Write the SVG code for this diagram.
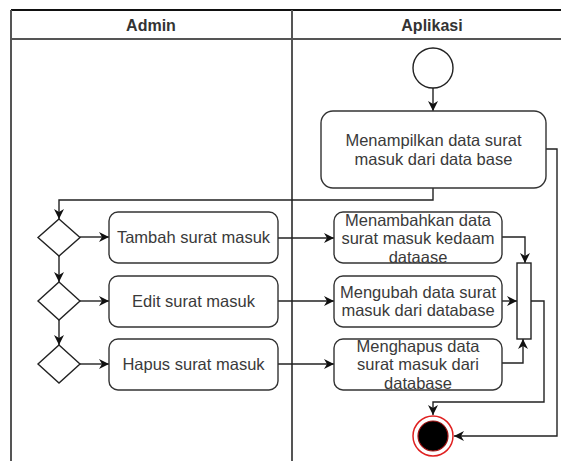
<svg xmlns="http://www.w3.org/2000/svg" width="561" height="461" viewBox="0 0 561 461">
  <defs>
    <marker id="arrow" viewBox="0 0 10 10" refX="10" refY="5" markerWidth="10" markerHeight="10" markerUnits="userSpaceOnUse" orient="auto">
      <path d="M0,0 L10,5 L0,10 L3,5 Z" fill="#111"/>
    </marker>
    <style>
      .lane { fill: none; stroke: #555; stroke-width: 2; }
      .head { font-family: "Liberation Sans", Arial, sans-serif; font-size: 16px; font-weight: bold; fill: #333; text-anchor: middle; }
      .box { fill: #fff; stroke: #333; stroke-width: 1.4; }
      .dia { fill: #fff; stroke: #222; stroke-width: 1.4; }
      .lbl { font-family: "Liberation Sans", Arial, sans-serif; font-size: 16.5px; fill: #3a3a3a; text-anchor: middle; }
      .edge { fill: none; stroke: #222; stroke-width: 1.4; marker-end: url(#arrow); }
    </style>
  </defs>
  <rect width="561" height="461" fill="#fff"/>

  <!-- swimlanes -->
  <g id="lanes">
    <line x1="11" y1="10" x2="561" y2="10" stroke="#111" stroke-width="2"/>
    <line class="lane" x1="11" y1="10" x2="11" y2="461"/>
    <line class="lane" x1="11" y1="39" x2="561" y2="39"/>
    <line class="lane" x1="292" y1="10" x2="292" y2="461"/>
    <text class="head" x="151" y="31">Admin</text>
    <text class="head" x="432" y="31">Aplikasi</text>
  </g>

  <!-- connectors -->
  <g id="connectors">
    <path class="edge" d="M433,88 V111"/>
    <path class="edge" d="M433,188 V200 H59 V219"/>
    <path class="edge" d="M546,149 H557 V436 H454"/>
    <path class="edge" d="M80,237 H109"/>
    <path class="edge" d="M80,301 H109"/>
    <path class="edge" d="M80,364 H109"/>
    <path class="edge" d="M59,256 V282"/>
    <path class="edge" d="M59,320 V345"/>
    <path class="edge" d="M278,238 H334"/>
    <path class="edge" d="M278,301 H334"/>
    <path class="edge" d="M278,364 H334"/>
    <path class="edge" d="M502,237 H525 V263"/>
    <path class="edge" d="M502,301 H517"/>
    <path class="edge" d="M502,363 H523 V339"/>
    <path class="edge" d="M531,301 H544 V402 H433 V415"/>
  </g>

  <g id="start">
    <circle cx="433" cy="68" r="20" fill="#fff" stroke="#222" stroke-width="1.4"/>
  </g>

  <g id="tampil">
    <rect class="box" x="321" y="111" width="225" height="77" rx="12"/>
    <text class="lbl" x="433.5" y="145.5">Menampilkan data surat</text>
    <text class="lbl" x="433.5" y="164.5">masuk dari data base</text>
  </g>

  <g id="dec1"><path class="dia" d="M59,219 L80,237.5 L59,256 L38,237.5 Z"/></g>
  <g id="dec2"><path class="dia" d="M59,282 L80,301 L59,320 L38,301 Z"/></g>
  <g id="dec3"><path class="dia" d="M59,345 L80,364 L59,383 L38,364 Z"/></g>

  <g id="tambah">
    <rect class="box" x="109" y="212" width="169" height="51" rx="9"/>
    <text class="lbl" x="193.5" y="243">Tambah surat masuk</text>
  </g>
  <g id="edit">
    <rect class="box" x="109" y="276" width="169" height="51" rx="9"/>
    <text class="lbl" x="193.5" y="307">Edit surat masuk</text>
  </g>
  <g id="hapus">
    <rect class="box" x="109" y="339" width="169" height="51" rx="9"/>
    <text class="lbl" x="193.5" y="370">Hapus surat masuk</text>
  </g>

  <g id="menambahkan">
    <rect class="box" x="334" y="212" width="168" height="51" rx="9"/>
    <text class="lbl" x="418" y="225.5">Menambahkan data</text>
    <text class="lbl" x="418" y="244">surat masuk kedaam</text>
    <text class="lbl" x="418" y="262.5">dataase</text>
  </g>
  <g id="mengubah">
    <rect class="box" x="334" y="276" width="168" height="51" rx="9"/>
    <text class="lbl" x="418" y="297.5">Mengubah data surat</text>
    <text class="lbl" x="418" y="316">masuk dari database</text>
  </g>
  <g id="menghapus">
    <rect class="box" x="334" y="339" width="168" height="51" rx="9"/>
    <text class="lbl" x="418" y="351.5">Menghapus data</text>
    <text class="lbl" x="418" y="370">surat masuk dari</text>
    <text class="lbl" x="418" y="388.5">database</text>
  </g>

  <g id="join">
    <rect x="517" y="263" width="14" height="76" fill="#fff" stroke="#222" stroke-width="1.4"/>
  </g>

  <g id="end">
    <circle cx="433" cy="436" r="20" fill="#fff" stroke="#e02020" stroke-width="1.5"/>
    <circle cx="433" cy="436" r="15" fill="#000" stroke="#a01010" stroke-width="1.2"/>
  </g>
</svg>
